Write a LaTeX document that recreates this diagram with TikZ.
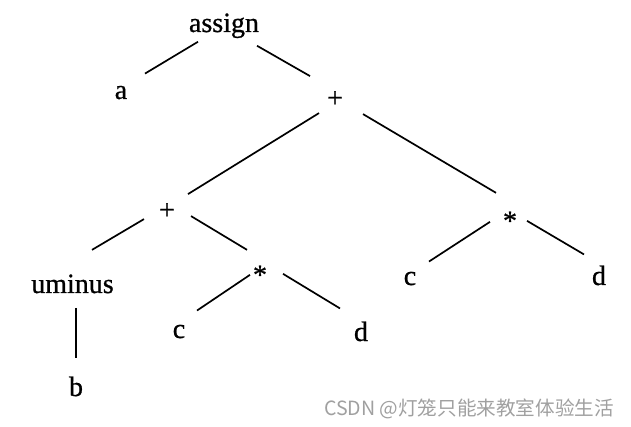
\documentclass[tikz,border=0pt]{standalone}
\usepackage{fontspec}
\setmainfont{Liberation Serif}[FakeBold=0.8]
\newfontfamily\cjk{Noto Sans CJK SC}
\usetikzlibrary{calc}
\definecolor{wm}{HTML}{A0A0A0}
\tikzset{
  lbl/.style={anchor=base, inner sep=0pt, font=\fontsize{28}{28}\selectfont},
  edge/.style={line width=1.7pt, line cap=butt}
}
\begin{document}
\begin{tikzpicture}[x=1pt,y=-1pt]
\useasboundingbox (0,0) rectangle (631,427);
\node[lbl] (assign) at (224,32) {assign};
\node[lbl] (a) at (121,99) {a};
\node[lbl] (p1) at (335,107) {+};
\node[lbl] (p2) at (167,219) {+};
\node[lbl] (um) at (72.5,293) {uminus};
\node[lbl] (b) at (76,396) {b};
\node[lbl] (s1) at (260,284) {*};
\node[lbl] (c1) at (179,338) {c};
\node[lbl] (d1) at (361,341) {d};
\node[lbl] (s2) at (510,230) {*};
\node[lbl] (c2) at (410,285) {c};
\node[lbl] (d2) at (599,285) {d};
\node[anchor=center, inner sep=0pt, text=wm, font=\cjk\fontsize{19.6}{19.6}\selectfont] (wmk) at (469,409) {CSDN @灯笼只能来教室体验生活};
\begin{scope}[edge]
\draw ($(assign)+(-26,16)$) -- ($(a)+(24,-19)$);
\draw ($(assign)+(33,20)$) -- ($(p1)+(-25,-23)$);
\draw ($(p1)+(-16,14)$) -- ($(p2)+(21,-17)$);
\draw ($(p1)+(28,15)$) -- ($(s2)+(-14,-28)$);
\draw ($(p2)+(-23,8)$) -- ($(um)+(19.5,-34)$);
\draw ($(p2)+(24,5)$) -- ($(s1)+(-13,-25)$);
\draw ($(s1)+(-10,0)$) -- ($(c1)+(18,-21)$);
\draw ($(s1)+(23,-1)$) -- ($(d1)+(-21,-23)$);
\draw ($(um)+(3.5,24)$) -- ($(b)+(0,-28)$);
\draw ($(s2)+(-20,1)$) -- ($(c2)+(19,-17)$);
\draw ($(s2)+(17,0)$) -- ($(d2)+(-15,-21)$);
\end{scope}
\end{tikzpicture}
\end{document}
